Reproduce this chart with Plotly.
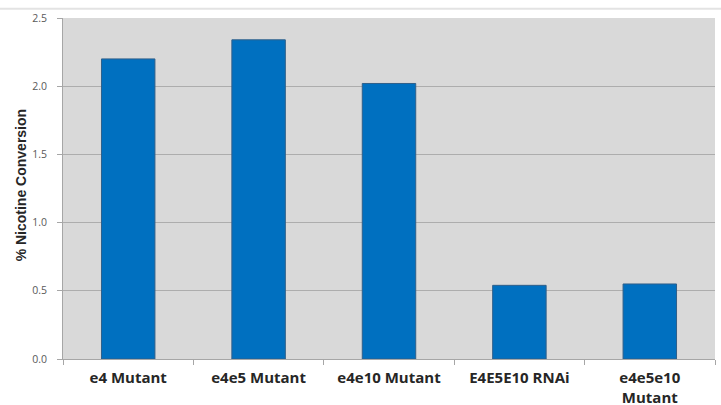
import plotly.graph_objects as go

categories = ["e4 Mutant", "e4e5 Mutant", "e4e10 Mutant", "E4E5E10 RNAi", "e4e5e10<br>Mutant"]
conversion = [2.20, 2.34, 2.02, 0.54, 0.55]
y_ticks = [0.0, 0.5, 1.0, 1.5, 2.0, 2.5]
y_tick_labels = ["0.0", "0.5", "1.0", "1.5", "2.0", "2.5"]
y_title = "% Nicotine Conversion"

fig = go.Figure(
    go.Bar(
        x=categories,
        y=conversion,
        width=0.41,
        marker=dict(color="#0070C0", line=dict(color="#2F5F8A", width=1)),
    )
)

fig.update_layout(
    width=721,
    height=405,
    margin=dict(l=63, r=6, t=18, b=46),
    paper_bgcolor="white",
    plot_bgcolor="#D9D9D9",
    showlegend=False,
    font=dict(family="Open Sans, Liberation Sans, sans-serif"),
    shapes=[
        dict(type="line", xref="paper", yref="paper", x0=-0.1, x1=1.01, y0=1.027, y1=1.027,
             line=dict(color="#E3E3E3", width=2)),
    ],
    annotations=[
        dict(
            text=y_title, xref="paper", yref="paper", x=-0.064, y=0.51,
            xanchor="center", yanchor="middle", textangle=-90, showarrow=False,
            font=dict(size=14, color="#262626",
                      family="Liberation Sans Narrow, Liberation Sans, sans-serif", weight="bold"),
        )
    ],
)

fig.update_xaxes(
    automargin=False,
    showgrid=False,
    showline=True,
    linecolor="#A6A6A6",
    linewidth=1,
    ticks="outside",
    ticklen=5,
    tickcolor="#A6A6A6",
    tickson="boundaries",
    ticklabelstandoff=5,
    tickfont=dict(size=15, color="#262626", family="Open Sans, sans-serif", weight="bold"),
    fixedrange=True,
)

fig.update_yaxes(
    automargin=False,
    range=[0, 2.5],
    tickvals=y_ticks,
    ticktext=y_tick_labels,
    showgrid=True,
    gridcolor="#ADADAD",
    gridwidth=1,
    zeroline=False,
    showline=True,
    linecolor="#A6A6A6",
    linewidth=1,
    ticks="outside",
    ticklen=5,
    tickcolor="#A6A6A6",
    ticklabelstandoff=8,
    tickfont=dict(size=10.5, color="#595959"),
    fixedrange=True,
)

fig.write_html("out.html")
